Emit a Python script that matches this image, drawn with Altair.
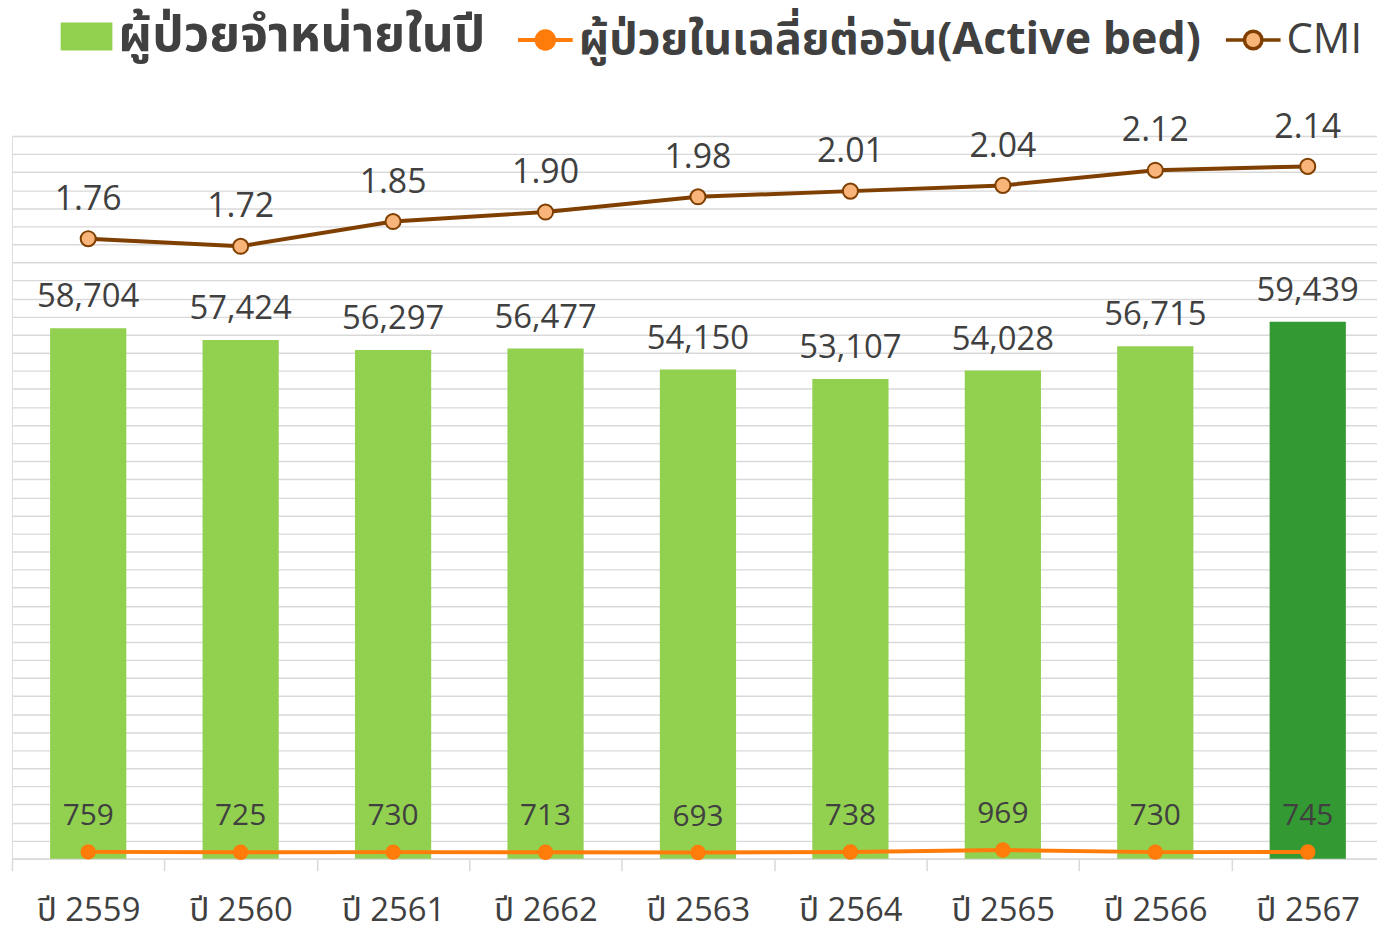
import altair as alt
import pandas as pd

years = ["ปี 2559", "ปี 2560", "ปี 2561", "ปี 2662", "ปี 2563", "ปี 2564", "ปี 2565", "ปี 2566", "ปี 2567"]
discharged = [58704, 57424, 56297, 56477, 54150, 53107, 54028, 56715, 59439]
active_bed = [759, 725, 730, 713, 693, 738, 969, 730, 745]
cmi = [1.76, 1.72, 1.85, 1.90, 1.98, 2.01, 2.04, 2.12, 2.14]

L_BAR = "ผู้ป่วยจำหน่ายในปี"
L_AB = "ผู้ป่วยในเฉลี่ยต่อวัน(Active bed)"
L_CMI = "CMI"

df = pd.DataFrame({
    "year": years,
    "discharged": discharged,
    "active": active_bed,
    "cmi": cmi,
})
df["bar_key"] = [L_BAR] * (len(years) - 1) + ["last"]
df["ab_key"] = L_AB
df["cmi_key"] = L_CMI

FONT = "'Open Sans', 'Noto Sans Thai', Tahoma, sans-serif"
TXT = "#404040"
GREEN = "#92D050"
DARK = "#339933"
ORANGE = "#FF7C0A"
BROWN = "#7F3F00"
LIGHT = "#F9B47A"

xscale = alt.Scale(domain=years, range=[0, 1380], paddingInner=0, paddingOuter=0)
x = alt.X("year:N", sort=years, scale=xscale,
          axis=alt.Axis(title=None, labelAngle=0, tickBand="extent", grid=False,
                        domainColor="#D9D9D9", domainWidth=1.5, tickColor="#D9D9D9",
                        tickWidth=1.5, tickSize=12, labelFont=FONT, labelFontSize=33,
                        labelColor=TXT, labelPadding=24))

yb = alt.Scale(domain=[0, 80000], nice=False, zero=True)
yc = alt.Scale(domain=[-1.5, 2.3], nice=False, zero=False)

line_path = ("M-1,0H-0.32M0.32,0H1M-0.32,0A0.32,0.32 0 1,0 0.32,0"
             "A0.32,0.32 0 1,0 -0.32,0Z")

base = alt.Chart(df)

bars = base.mark_bar(width=alt.RelativeBandSize(0.5)).encode(
    x=x,
    y=alt.Y("discharged:Q", scale=yb,
            axis=alt.Axis(title=None, labels=False, ticks=False, domain=False, grid=True,
                          values=list(range(0, 80001, 2000)), gridColor="#D9D9D9",
                          gridWidth=1.4)),
    fill=alt.Fill("bar_key:N", scale=alt.Scale(domain=[L_BAR, "last"], range=[GREEN, DARK]),
                  legend=alt.Legend(values=[L_BAR], title=None, orient="none",
                                    legendX=49, legendY=-126,
                                    symbolType="M-1,-0.54H1V0.54H-1Z", symbolSize=2704,
                                    symbolStrokeWidth=0,
                                    labelFont=FONT, labelFontSize=50, labelFontWeight="bold",
                                    labelColor=TXT, labelLimit=1000, labelOffset=6)),
)

bar_text = base.mark_text(dy=-21, baseline="alphabetic", font=FONT, fontSize=33, color=TXT).encode(
    x=x, y=alt.Y("discharged:Q", scale=yb, axis=None),
    text=alt.Text("discharged:Q", format=","),
)

ab_line = base.mark_line(strokeWidth=4).encode(
    x=x, y=alt.Y("active:Q", scale=yb, axis=None),
    stroke=alt.Stroke("ab_key:N", scale=alt.Scale(domain=[L_AB], range=[ORANGE]),
                      legend=alt.Legend(title=None, orient="none", legendX=507, legendY=-126,
                                        symbolType=line_path, symbolSize=3025,
                                        symbolFillColor=ORANGE, symbolStrokeWidth=4,
                                        labelFont=FONT, labelFontSize=45, labelFontWeight="bold",
                                        labelColor=TXT, labelLimit=1000, labelOffset=4)),
)
ab_pts = base.mark_circle(size=240, color=ORANGE, opacity=1).encode(
    x=x, y=alt.Y("active:Q", scale=yb, axis=None))
ab_text = base.mark_text(dy=-27, baseline="alphabetic", font=FONT, fontSize=30, color=TXT).encode(
    x=x, y=alt.Y("active:Q", scale=yb, axis=None), text=alt.Text("active:Q"))

cmi_line = base.mark_line(strokeWidth=4).encode(
    x=x, y=alt.Y("cmi:Q", scale=yc, axis=None),
    stroke=alt.Stroke("cmi_key:N", scale=alt.Scale(domain=[L_CMI], range=[BROWN]),
                      legend=alt.Legend(title=None, orient="none", legendX=1219, legendY=-126,
                                        symbolType=line_path, symbolSize=3025,
                                        symbolFillColor=LIGHT, symbolStrokeWidth=3.5,
                                        labelFont=FONT, labelFontSize=42,
                                        labelColor=TXT, labelLimit=1000, labelOffset=4)),
)
cmi_pts = base.mark_point(filled=True, size=230, fill=LIGHT, stroke=BROWN, strokeWidth=2,
                          opacity=1, shape="circle").encode(
    x=x, y=alt.Y("cmi:Q", scale=yc, axis=None))
cmi_text = base.mark_text(dy=-29, baseline="alphabetic", font=FONT, fontSize=34, color=TXT).encode(
    x=x, y=alt.Y("cmi:Q", scale=yc, axis=None), text=alt.Text("cmi:Q", format=".2f"))

chart = alt.layer(
    bars, bar_text, ab_line, ab_pts, ab_text, cmi_line, cmi_pts, cmi_text
).resolve_scale(
    y="independent", stroke="independent", fill="independent"
).properties(
    width=1373, height=727,
    padding={"left": 4, "top": 126, "right": 0, "bottom": 72},
    autosize=alt.AutoSizeParams(type="none"),
).configure_view(stroke=None).configure(background="white")

chart.save("out.html", embed_options={"renderer": "svg", "actions": False})
